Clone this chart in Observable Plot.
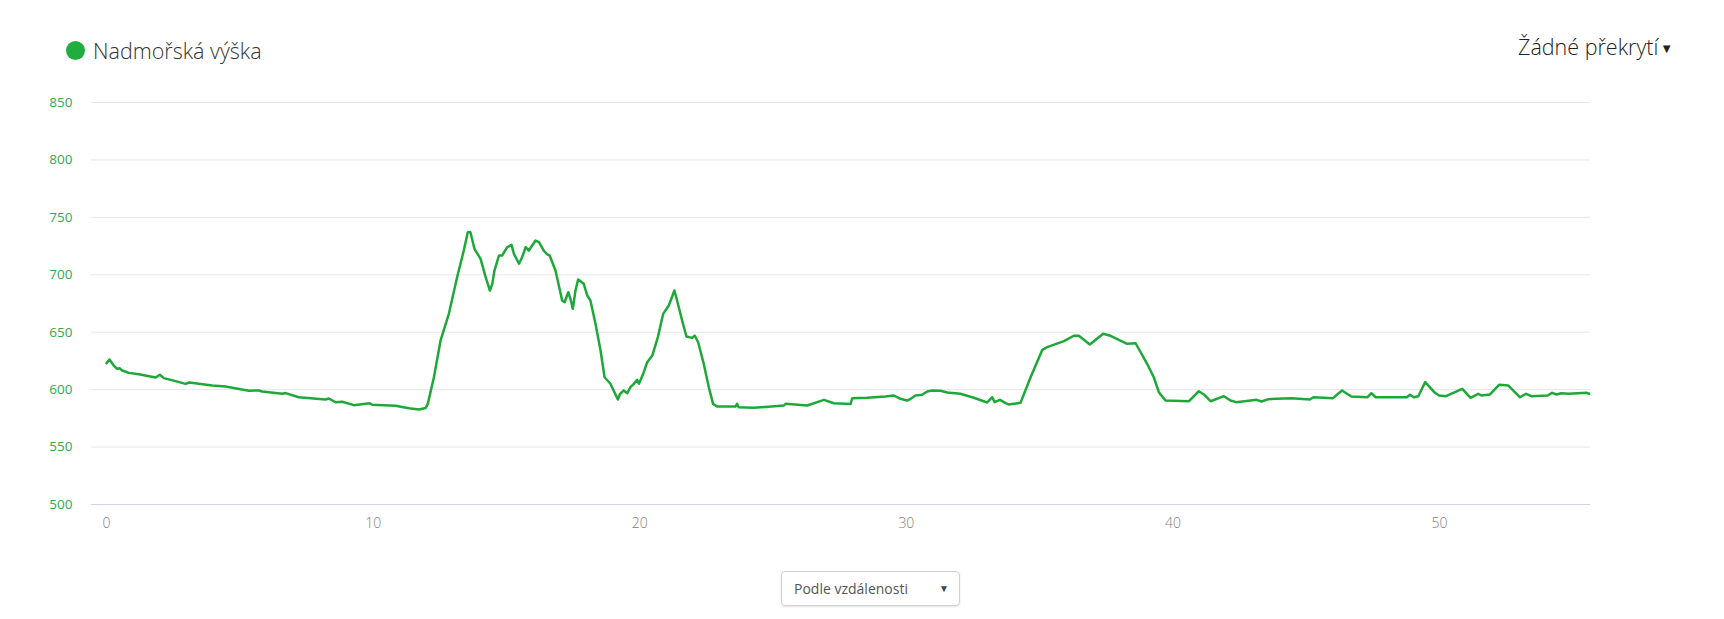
<!DOCTYPE html>
<html>
<head>
<meta charset="utf-8">
<script src="https://cdn.jsdelivr.net/npm/d3@7"></script>
<script src="https://cdn.jsdelivr.net/npm/@observablehq/plot@0.6"></script>
<style>
  html, body { margin: 0; padding: 0; background: #fff; }
  body { width: 1724px; height: 619px; position: relative; overflow: hidden; font-family: "Open Sans", sans-serif; }
  #legend { position: absolute; left: 66px; top: 34px; height: 32px; display: flex; align-items: center; color: #333; font-size: 21.5px; font-weight: 300; }
  #legend .dot { width: 19px; height: 19px; border-radius: 50%; background: #1fae3e; margin-right: 8px; }
  #overlay { position: absolute; left: 1518px; top: 32px; color: #222; font-size: 21.5px; font-weight: 300; white-space: nowrap; }
  #overlay .arrow { font-size: 13px; vertical-align: 2px; margin-left: 2px; }
  #chart { position: absolute; left: 0; top: 80px; }
  #select { position: absolute; left: 781px; top: 571px; width: 179px; height: 35px; box-sizing: border-box; border: 1px solid #d0d0d0; border-radius: 4px; box-shadow: 0 1px 2px rgba(0,0,0,0.12); font-size: 14px; color: #555; }
  #select .label { position: absolute; left: 12px; top: 7px; }
  #select .arrow { position: absolute; right: 10px; top: 9px; font-size: 10px; color: #444; }
</style>
</head>
<body>
<div id="legend"><span class="dot"></span><span>Nadmořská výška</span></div>
<div id="overlay">Žádné překrytí<span class="arrow">▼</span></div>
<div id="chart"></div>
<div id="select"><span class="label">Podle vzdálenosti</span><span class="arrow">▼</span></div>
<script>
const km = [0,0.11,0.27,0.4,0.49,0.59,0.84,1.21,1.84,2.0,2.15,2.59,2.96,3.11,3.96,4.46,5.34,5.71,5.84,6.59,6.72,7.21,8.21,8.34,8.59,8.84,9.28,9.87,9.97,10.84,11.34,11.72,11.97,12.05,12.28,12.53,12.84,13.15,13.4,13.55,13.65,13.8,14.03,14.22,14.38,14.47,14.55,14.72,14.84,15.03,15.19,15.28,15.47,15.59,15.72,15.84,16.09,16.22,16.4,16.53,16.62,16.84,17.09,17.18,17.32,17.4,17.49,17.59,17.69,17.9,18.03,18.15,18.34,18.53,18.68,18.9,19.05,19.18,19.25,19.4,19.53,19.65,19.78,19.9,19.97,20.13,20.28,20.47,20.68,20.88,21.09,21.3,21.4,21.59,21.75,21.97,22.06,22.19,22.4,22.59,22.75,22.9,23.59,23.65,23.71,24.28,25.41,25.47,26.28,26.91,27.28,27.91,27.97,28.53,29.22,29.53,29.78,30.03,30.16,30.34,30.59,30.78,30.97,31.28,31.53,32.03,32.53,33.03,33.22,33.31,33.51,33.72,33.84,34.28,34.66,35.1,35.28,35.91,36.28,36.47,36.88,37.38,37.66,38.28,38.6,39.03,39.28,39.47,39.72,40.6,40.97,41.16,41.41,41.91,42.16,42.37,43.14,43.32,43.58,44.44,45.13,45.27,46.0,46.34,46.69,47.3,47.44,47.6,48.77,48.89,49.03,49.2,49.46,49.8,49.98,50.24,50.85,51.16,51.45,51.57,51.89,52.23,52.58,53.01,53.24,53.44,54.05,54.22,54.39,54.56,54.83,55.52,55.61];
const elevation = [623,626.2,621,618,618.7,616.7,614.6,613.4,610.6,613,610,607.4,605,606.2,603.6,602.7,599,599.3,598.4,596.4,597,593.4,591.4,592.3,589,589.4,586.5,588.2,586.8,585.9,583.8,582.7,584,587.6,610.8,642.8,666,697.9,721.1,737.1,737.1,722.6,713.9,697.9,686.3,692.1,703.7,716.8,716.8,724,726.1,718.3,709.6,715.3,724,721.1,729.8,728.4,721.1,717.7,716.8,703.7,677.6,676.1,684.8,679.1,670.4,686.3,695.9,692.1,682,677.6,657.3,634.1,610.8,605.1,597.8,591.4,595.8,599.3,596.9,602.1,605.1,608.6,605.1,613.8,623.9,629.7,645.7,666,673.3,686.3,677.6,660.2,646.3,645.1,647.1,641.3,622.5,602.1,587.6,585.3,585.3,587.6,584.7,584.2,586.2,587.7,586.2,591.1,588.2,587.6,592.5,592.9,594,594.9,592,590.5,592,594.9,595.5,598.4,599.3,599,597.5,596.4,592.9,588.8,593.4,589.1,591.1,588.2,587.1,588.5,610.8,634.7,637,642.2,646.9,646.9,639.3,648.6,646.9,639.9,640.4,622.5,610.8,597.8,590.5,589.9,598.6,595.8,589.9,594.3,590.5,589.1,591.1,589.7,591.7,592.6,591.4,593.4,592.6,599.3,594,593.4,596.9,593.4,593.4,595.5,593.4,594.3,606.5,597.8,594.9,594.3,600.7,592.9,596.4,594.9,595.8,604.2,603.6,593.4,596.4,594.3,594.9,597.2,595.8,596.9,596.4,597.2,596.4];
const yTicks = [500, 550, 600, 650, 700, 750, 800, 850];
const xTicks = [0, 10, 20, 30, 40, 50];

const data = km.map((k, i) => ({km: k, elev: elevation[i]}));

const chart = Plot.plot({
  width: 1724,
  height: 470,
  marginLeft: 91,
  marginRight: 134,
  marginTop: 22,
  marginBottom: 46,
  style: {fontFamily: "'Open Sans', sans-serif", background: "transparent"},
  x: {domain: [-0.563, 55.66]},
  y: {domain: [500, 850]},
  marks: [
    Plot.gridY(yTicks, {stroke: "#e6e6e6", strokeOpacity: 1, strokeWidth: 1}),
    Plot.ruleY([500], {stroke: "#ccd6eb", strokeWidth: 1}),
    Plot.axisY(yTicks, {tickSize: 0, tickPadding: 19, fill: "#2fab4b", fontSize: 13.5, label: null, tickFormat: d => String(d)}),
    Plot.axisX(xTicks, {tickSize: 0, tickPadding: 14, fill: "#808080", fontSize: 14, fontWeight: 300, label: null, tickFormat: d => String(d)}),
    Plot.line(data, {x: "km", y: "elev", stroke: "#1fa83a", strokeWidth: 2.5, strokeLinejoin: "round"})
  ]
});
document.getElementById("chart").appendChild(chart);
</script>
</body>
</html>
